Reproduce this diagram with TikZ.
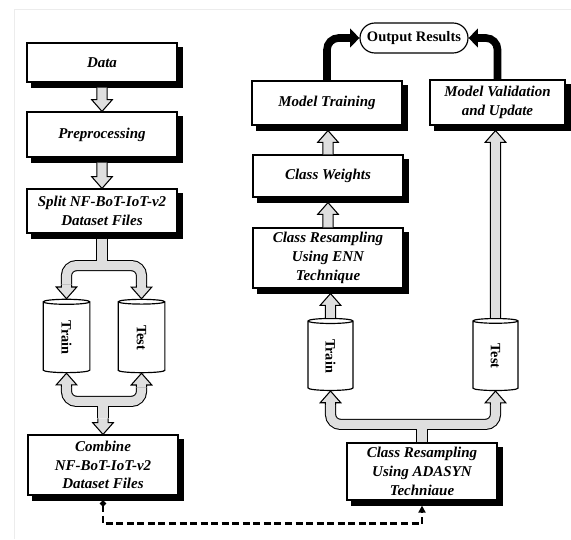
\documentclass[tikz,border=0pt]{standalone}
\usepackage{fontspec}
\setmainfont{Liberation Serif}
\usetikzlibrary{arrows.meta,positioning,shapes.geometric,calc,backgrounds}

% hollow vertical arrow, open at its start so it can join a band
\newcommand{\fatarrow}[2]{%
  \fill[fatfill] let \p1=#1, \p2=#2, \n1={(\y2>\y1)*2-1} in
    ({\x1-4.3pt},\y1) -- ({\x1-4.3pt},{\y2-\n1*10pt}) -- ({\x1-8.8pt},{\y2-\n1*10pt})
    -- (\x1,\y2) -- ({\x1+8.8pt},{\y2-\n1*10pt}) -- ({\x1+4.3pt},{\y2-\n1*10pt})
    -- ({\x1+4.3pt},\y1) -- cycle;
  \draw[fatline] let \p1=#1, \p2=#2, \n1={(\y2>\y1)*2-1} in
    ({\x1-4.3pt},\y1) -- ({\x1-4.3pt},{\y2-\n1*10pt}) -- ({\x1-8.8pt},{\y2-\n1*10pt})
    -- (\x1,\y2) -- ({\x1+8.8pt},{\y2-\n1*10pt}) -- ({\x1+4.3pt},{\y2-\n1*10pt})
    -- ({\x1+4.3pt},\y1);}

\begin{document}
\begin{tikzpicture}[x=0.03cm,y=-0.03cm,
    box/.style={draw,fill=white,line width=1pt,minimum width=4.5cm,align=center,
                font=\fontsize{12.8}{16}\selectfont\bfseries\itshape},
    db/.style={cylinder,shape border rotate=90,aspect=0.5,draw,fill=white,line width=1pt,
               minimum width=1.4cm,minimum height=2.2cm,inner sep=0pt,
               font=\fontsize{12.2}{14}\selectfont\bfseries},
    fatfill/.style={fill=gray!25},
    fatline/.style={line width=0.9pt,line join=miter},
    bandout/.style={line width=9.5pt,rounded corners=0.3cm},
    bandin/.style={line width=7.7pt,gray!25,rounded corners=0.3cm},
    bigarrow/.style={line width=6.5pt,rounded corners=0.35cm,-{Triangle[length=8pt,width=16pt]}},
    dashline/.style={line width=2.1pt,dash pattern=on 6pt off 3pt,
                     {Circle[length=5pt]}-{Triangle[length=6pt,width=6pt]}}]
  \useasboundingbox (0,0) rectangle (571,539);
  \draw[gray!15,line width=0.7pt] (14,539) -- (14,9) -- (571,9);

  % left column
  \node[box,minimum height=1.17cm] (data) at (102,62.5) {Data};
  \node[box,minimum height=1.35cm] (prep) at (102,134.5) {Preprocessing};
  \node[box,minimum height=1.32cm] (split) at (102,211) {Split NF-BoT-IoT-v2\\Dataset Files};
  \node[db] (trainL) at (66.5,337.5) {\rotatebox{-90}{Train}};
  \node[db] (testL) at (141.5,337.5) {\rotatebox{-90}{Test}};
  \node[box,minimum height=1.8cm] (combine) at (103,465) {Combine\\NF-BoT-IoT-v2\\Dataset Files};

  % right column
  \node[draw,line width=1pt,rounded corners=0.45cm,minimum width=3.24cm,minimum height=0.9cm,
        font=\fontsize{12.4}{14}\selectfont\bfseries] (output) at (414,38) {Output Results};
  \node[box,minimum height=1.32cm] (mtrain) at (327,103) {Model Training};
  \node[box,minimum width=4.05cm,minimum height=1.35cm] (valid) at (497.5,102.5) {Model Validation\\and Update};
  \node[box,minimum height=1.26cm] (weights) at (328,176) {Class Weights};
  \node[box,minimum height=1.8cm] (enn) at (328,258) {Class Resampling\\Using ENN\\Technique};
  \node[db,minimum width=1.35cm,minimum height=2.16cm] (trainR) at (330.5,356) {\rotatebox{-90}{Train}};
  \node[db,minimum width=1.35cm,minimum height=2.16cm] (testR) at (495.5,356) {\rotatebox{-90}{Test}};
  \node[box,minimum height=1.71cm] (adasyn) at (422,471.5) {Class Resampling\\Using ADASYN\\Techniaue};

  % black shadows behind the boxes
  \begin{scope}[on background layer]
    \foreach \n in {data,prep,split,combine,mtrain,valid,weights,enn,adasyn}
      \fill ($(\n.south west)+(5,5)$) rectangle ($(\n.north east)+(5,5)$);
  \end{scope}

  % fork points
  \coordinate (forkA) at ($(split.south)+(0,32)$);
  \coordinate (forkB) at ($(combine.north)+(0,-33)$);
  \coordinate (forkC) at ($(adasyn.north)+(0,-18)$);

  % split / join bands
  \foreach \s in {bandout,bandin} {
    \draw[\s] ($(split.south)+(0,5)$) -- (forkA);
    \draw[\s] ($(trainL.north)+(0,-14)$) |- (forkA) -| ($(testL.north)+(0,-14)$);
    \draw[\s] ($(trainL.south)+(0,14)$) |- (forkB) -| ($(testL.south)+(0,14)$);
    \draw[\s] (forkB) -- ($(combine.north)+(0,-16)$);
    \draw[\s] ($(trainR.south)+(0,14)$) |- (forkC) -| ($(testR.south)+(0,14)$);
    \draw[\s] (forkC) -- (adasyn.north);
  }

  % hollow arrows
  \fatarrow{($(data.south)+(0,5)$)}{(prep.north)}
  \fatarrow{($(prep.south)+(0,5)$)}{(split.north)}
  \fatarrow{($(trainL.north)+(0,-14)$)}{(trainL.north)}
  \fatarrow{($(testL.north)+(0,-14)$)}{(testL.north)}
  \fatarrow{($(trainL.south)+(0,14)$)}{(trainL.south)}
  \fatarrow{($(testL.south)+(0,14)$)}{(testL.south)}
  \fatarrow{($(combine.north)+(0,-16)$)}{(combine.north)}
  \fatarrow{($(trainR.south)+(0,14)$)}{(trainR.south)}
  \fatarrow{($(testR.south)+(0,14)$)}{(testR.south)}
  \fatarrow{(trainR.north)}{($(enn.south)+(0,5)$)}
  \fatarrow{(enn.north)}{($(weights.south)+(0,5)$)}
  \fatarrow{(weights.north)}{($(mtrain.south)+(0,5)$)}
  \fatarrow{(testR.north)}{($(testR.north |- valid.south)+(0,5)$)}

  % results
  \draw[bigarrow] (mtrain.north) |- (output.west);
  \draw[bigarrow] (valid.north) |- (output.east);

  \draw[dashline] ($(combine.south)+(0,5)$) -- ++(0,23) -| ($(adasyn.south)+(0,5)$);
\end{tikzpicture}
\end{document}
